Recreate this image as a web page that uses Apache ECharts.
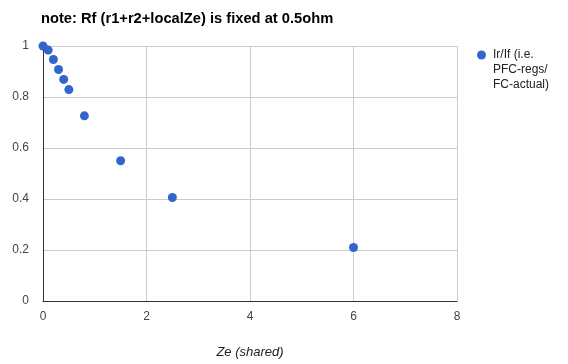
<!DOCTYPE html>
<html><head><meta charset="utf-8">
<script src="https://cdn.jsdelivr.net/npm/echarts@6/dist/echarts.min.js"></script>
<style>html,body{margin:0;padding:0;background:#fff}#c{width:568px;height:364px}</style>
</head><body><div id="c"></div>
<script>
const titleText = 'note: Rf (r1+r2+localZe) is fixed at 0.5ohm';
const seriesName = 'Ir/If (i.e.\nPFC-regs/\nFC-actual)';
const xAxisName = 'Ze (shared)';
const zeValues = [0, 0.1, 0.2, 0.3, 0.4, 0.5, 0.8, 1.5, 2.5, 6];
const ratioValues = [1.0, 0.984, 0.947, 0.908, 0.869, 0.829, 0.726, 0.55, 0.406, 0.21];
const xTicks = [0, 2, 4, 6, 8];
const yTicks = [0, 0.2, 0.4, 0.6, 0.8, 1];

const nameLines = seriesName.split('\n');
const font = 'Liberation Sans, Arial';
const chart = echarts.init(document.getElementById('c'));
chart.setOption({
  animation: false,
  title: {
    text: titleText, left: 36, top: 6,
    textStyle: { fontFamily: font, fontSize: 14.7, fontWeight: 'bold', color: '#000' }
  },
  legend: {
    left: 472, top: 44, orient: 'vertical', icon: 'circle', itemWidth: 9, itemHeight: 9,
    formatter: () => nameLines[0],
    textStyle: { fontFamily: font, fontSize: 12, color: '#222', padding: [0, 0, 0, 2] },
    data: [seriesName]
  },
  graphic: [{
    type: 'text', left: 493, top: 62,
    style: { text: nameLines.slice(1).join('\n'), fontFamily: font, fontSize: 12, lineHeight: 15, fill: '#222' }
  }],
  grid: { left: 43, right: 111, top: 46, bottom: 62.5, containLabel: false },
  xAxis: {
    type: 'value', min: xTicks[0], max: xTicks[xTicks.length - 1], interval: 2,
    name: xAxisName, nameLocation: 'middle', nameGap: 45,
    nameTextStyle: { fontFamily: font, fontSize: 13, fontStyle: 'italic', color: '#222' },
    axisLine: { onZero: false, lineStyle: { color: '#333' } },
    axisTick: { show: false },
    axisLabel: { fontFamily: font, fontSize: 12, color: '#444', margin: 10 },
    splitLine: { show: true, lineStyle: { color: '#ccc' } }
  },
  yAxis: {
    type: 'value', min: yTicks[0], max: yTicks[yTicks.length - 1], interval: 0.2,
    axisLine: { show: true, lineStyle: { color: '#333' } },
    axisTick: { show: false },
    axisLabel: { fontFamily: font, fontSize: 12, color: '#444', margin: 14 },
    splitLine: { show: true, lineStyle: { color: '#ccc' } }
  },
  series: [{
    name: seriesName, type: 'scatter', symbolSize: 9,
    itemStyle: { color: '#3366cc', opacity: 1 },
    data: zeValues.map((x, i) => [x, ratioValues[i]])
  }]
});
</script></body></html>
